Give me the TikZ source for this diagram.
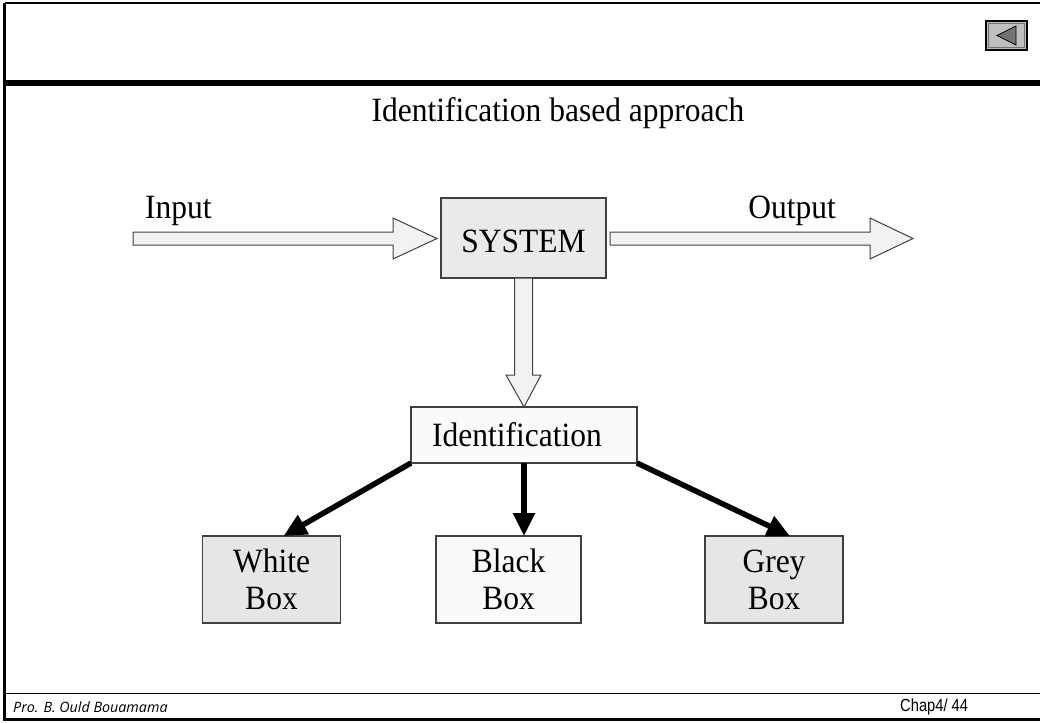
\documentclass[tikz,border=0pt]{standalone}
\usepackage{fontspec}
\setmainfont{Liberation Serif}
\newfontfamily\footfont{Open Sans}
\newfontfamily\chapfont{Liberation Sans}
\usetikzlibrary{arrows.meta,calc}

\definecolor{sysfill}{HTML}{EAEAEA}
\definecolor{greyfill}{HTML}{E6E6E6}
\definecolor{paleFill}{HTML}{FAFAFA}
\definecolor{arrowfill}{HTML}{F2F2F2}
\definecolor{edge}{HTML}{404040}

% slightly tall lettering, one or more centred lines, set a little low
\newcommand\tallText[2][4pt]{\raisebox{-#1}[\height][\depth]{\scalebox{1}[1.08]{\begin{tabular}{@{}c@{}}#2\end{tabular}}}}

\tikzset{
  bigtext/.style={font=\fontsize{31.5}{35}\selectfont},
  boxnode/.style={draw=edge, line width=1.2pt, outer sep=0pt, inner sep=0pt,
                  bigtext, align=center},
  blockarrow/.style={draw=edge, line width=1pt, fill=arrowfill, line join=miter},
  heavyarrow/.style={line width=5.5pt, -{Triangle[length=23pt,width=21pt]}},
  frameline/.style={line width=2.5pt, draw=black},
}

\begin{document}
\begin{tikzpicture}[x=1pt,y=-1pt]
\useasboundingbox (0,0) rectangle (1040,722);

% slide frame
\draw[frameline] (4.5,3) -- (1040,3);
\draw[frameline] (4.5,3) -- (4.5,719.5) -- (1040,719.5);
\draw[line width=6pt] (3,83.5) -- (1040,83.5);
\draw[line width=1.5pt] (4.5,693.5) -- (1040,693.5);

% back button
\draw[line width=2.5pt, fill=black!25] (986,21) rectangle (1027,50);
\draw[line width=1pt, draw=black!55] (988.5,23.5) rectangle (1024.5,47.5);
\draw[line width=0.8pt, fill=black!55] (997,35.5) -- (1016,26) -- (1016,45) -- cycle;

% title
\node[bigtext, anchor=base, inner sep=0pt] (title) at (558,122) {\scalebox{1}[1.08]{Identification based approach}};

% main blocks
\node[boxnode, fill=sysfill, minimum width=165pt, minimum height=80pt] (sys) at (523.5,238)
  {\tallText[7pt]{SYSTEM}};
\node[boxnode, fill=paleFill, minimum width=226pt, minimum height=56pt] (ident) at (524,435)
  {\tallText{Identification}\hspace*{14pt}};
\node[boxnode, fill=greyfill, minimum width=138pt, minimum height=87pt] (wb) at (271.5,579.5) {\tallText{White\\Box}};
\node[boxnode, fill=paleFill, minimum width=145pt, minimum height=87pt] (bb) at (508.5,579.5) {\tallText{Black\\Box}};
\node[boxnode, fill=greyfill, minimum width=138pt, minimum height=87pt] (gb) at (774,579.5) {\tallText{Grey\\Box}};

% labels of the signal arrows
\node[bigtext, anchor=base west, inner sep=0pt] (inlabel) at (145,218) {\scalebox{1}[1.08]{Input}};
\node[bigtext, anchor=base, inner sep=0pt] (outlabel) at (792,218) {\scalebox{1}[1.08]{Output}};

% input block arrow
\coordinate (inS) at (133,238.5);
\draw[blockarrow] ($(inS)+(0,-6.5)$) -- ($(sys.west)+(-48,-6)$) -- ($(sys.west)+(-48,-20)$)
  -- ($(sys.west)+(-4,0.5)$) -- ($(sys.west)+(-48,21)$) -- ($(sys.west)+(-48,7)$)
  -- ($(inS)+(0,6.5)$) -- cycle;

% output block arrow
\coordinate (outE) at (913,238.5);
\draw[blockarrow] ($(sys.east)+(4,-6)$) -- ($(outE)+(-43,-6.5)$) -- ($(outE)+(-43,-20.5)$)
  -- (outE) -- ($(outE)+(-43,20.5)$) -- ($(outE)+(-43,6.5)$)
  -- ($(sys.east)+(4,7)$) -- cycle;

% block arrow from the system down to identification
\draw[blockarrow] ($(sys.south)+(-9,0)$) -- ($(ident.north)+(-9.5,-32)$) -- ($(ident.north)+(-18,-32)$)
  -- (ident.north) -- ($(ident.north)+(17,-32)$) -- ($(ident.north)+(8.5,-32)$)
  -- ($(sys.south)+(9,0)$) -- cycle;

% identification leads to the three model classes
\draw[heavyarrow] (ident.south west) -- ($(wb.north)+(12,0)$);
\draw[heavyarrow] (ident.south) -- (ident.south |- bb.north);
\draw[heavyarrow] (ident.south east) -- ($(gb.north)+(16,0)$);

% footer
\node[anchor=base west, inner sep=0pt] (author) at (13,712)
  {\footfont\itshape\fontsize{14.3}{16}\selectfont Pro. B. Ould Bouamama};
\node[anchor=base west, inner sep=0pt] (page) at (900,711.5)
  {\scalebox{0.84}[1]{\chapfont\fontsize{17.5}{19}\selectfont Chap4/ 44}};
\end{tikzpicture}
\end{document}
